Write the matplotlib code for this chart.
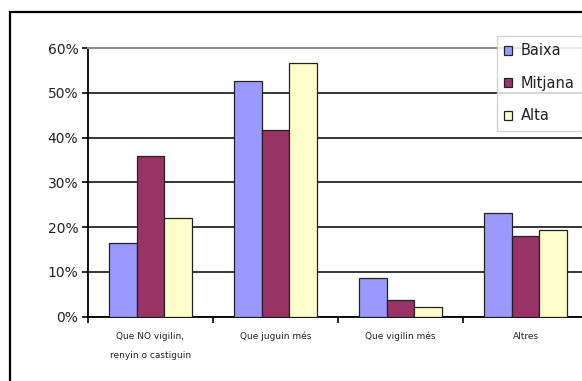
import matplotlib
matplotlib.use("Agg")
import matplotlib.pyplot as plt
import numpy as np
from matplotlib.patches import Rectangle

# Dades
categories = ["Que NO vigilin,\nrenyin o castiguin", "Que juguin més", "Que vigilin més", "Altres"]
baixa = [0.164, 0.526, 0.087, 0.232]
mitjana = [0.359, 0.417, 0.037, 0.181]
alta = [0.220, 0.566, 0.022, 0.194]
series_names = ["Baixa", "Mitjana", "Alta"]
colors = ["#9999FF", "#993366", "#FFFFCC"]
yticks = [0, 0.1, 0.2, 0.3, 0.4, 0.5, 0.6]

W, H = 582, 381
fig = plt.figure(figsize=(W / 100, H / 100), dpi=100)
fig.patch.set_facecolor("white")

# marc del gràfic (retallat a dreta i a baix)
fig.patches.append(Rectangle((10 / W, -0.2), 1.5, (H - 12) / H + 0.2,
                             transform=fig.transFigure, fill=False,
                             edgecolor="black", lw=1.6))

ax = fig.add_axes([88 / W, (H - 316.7) / H, 500 / W, (316.7 - 48) / H])

x = np.arange(len(categories))
bw = 1 / 4.5
for i, (vals, c, name) in enumerate(zip([baixa, mitjana, alta], colors, series_names)):
    ax.bar(x + (i - 1) * bw, vals, bw, color=c, edgecolor="#222222",
           lw=0.9, label=name, zorder=3)

ax.set_xlim(-0.5, 3.5)
ax.set_ylim(0, 0.6)
ax.set_yticks(yticks)
ax.set_yticklabels([f"{int(round(t * 100))}%" for t in yticks],
                   fontsize=10, color="#222222")
ax.yaxis.grid(True, color="black", lw=1.1, zorder=1)
ax.set_axisbelow(True)

ax.set_xticks(x)
ax.set_xticklabels(categories, fontsize=6.5, color="#222222", linespacing=2.5)
ax.set_xticks(np.arange(-0.5, 4, 1), minor=True)
ax.tick_params(axis="x", which="major", length=0, pad=11)
ax.tick_params(axis="x", which="minor", length=4, width=1.2, direction="out")
ax.tick_params(axis="y", length=4, width=1.2, direction="out", pad=3)

for s in ["left", "bottom"]:
    ax.spines[s].set_color("black")
    ax.spines[s].set_linewidth(1.3)
for s in ["top", "right"]:
    ax.spines[s].set_color("#909090")
    ax.spines[s].set_linewidth(1.5)

leg = ax.legend(loc="upper left", bbox_to_anchor=(497 / W, 1 - 36 / H),
                bbox_transform=fig.transFigure, fontsize=10.5,
                frameon=True, fancybox=False, handlelength=0.55,
                handleheight=0.55, handletextpad=0.6, labelspacing=1.2,
                borderpad=0.5, borderaxespad=0)
leg.get_frame().set_edgecolor("#c8c8c8")
leg.get_frame().set_linewidth(1.0)
for t in leg.get_texts():
    t.set_color("#222222")

fig.savefig("out.png", dpi=100)
